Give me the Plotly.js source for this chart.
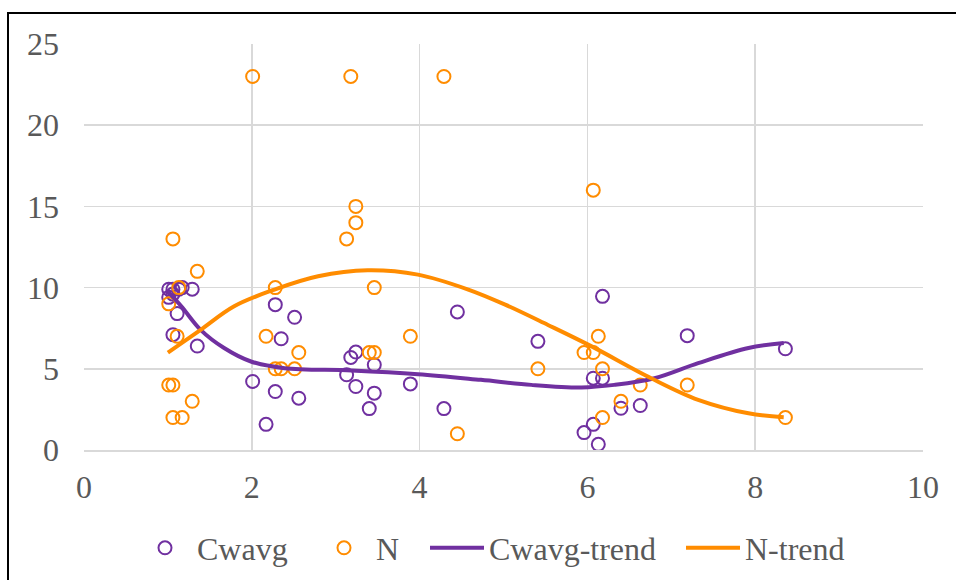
<!DOCTYPE html>
<html>
<head>
<meta charset="utf-8">
<script src="https://cdn.plot.ly/plotly-3.0.1.min.js"></script>
<style>
  html, body { margin: 0; padding: 0; background: #fff; }
  #wrap { position: relative; width: 956px; height: 580px; overflow: hidden; }
  #chart { position: absolute; left: 0; top: 0; width: 956px; height: 580px; }
  #frame { position: absolute; left: 7px; top: 12px; width: 960px; height: 580px;
           border-left: 2px solid #000; border-top: 2px solid #000; pointer-events: none; }
</style>
</head>
<body>
<div id="wrap">
  <div id="chart"></div>
  <div id="frame"></div>
</div>
<script>
// Sample x positions (shared by both series)
const sampleX = [1.01, 1.01, 1.06, 1.06, 1.06, 1.11, 1.13, 1.17, 1.29, 1.35,
                 2.01, 2.17, 2.28, 2.28, 2.35, 2.51, 2.56,
                 3.13, 3.18, 3.24, 3.24, 3.40, 3.46, 3.46, 3.89, 4.29, 4.45,
                 5.41, 5.96, 6.07, 6.07, 6.13, 6.18, 6.18, 6.40, 6.63, 7.19, 8.36];
const cwavgValues = [9.9, 9.4, 9.9, 9.6, 7.1, 8.4, 9.9, 10.0, 9.9, 6.4,
                     4.22, 1.58, 8.95, 3.6, 6.85, 8.17, 3.19,
                     4.63, 5.7, 6.03, 3.91, 2.55, 5.25, 3.5, 4.07, 2.55, 8.5,
                     6.69, 1.07, 4.42, 1.58, 0.35, 9.46, 4.42, 2.57, 2.74, 7.04, 6.23];
const nValues = [9, 4, 4, 13, 2, 7, 10, 2, 3, 11,
                 23, 7, 10, 5, 5, 5, 6,
                 13, 23, 14, 15, 6, 6, 10, 7, 23, 1,
                 5, 6, 6, 16, 7, 5, 2, 3, 4, 4, 2];

// Trend lines
const cwTrendX = [1.00, 1.16, 1.39, 1.67, 1.99, 2.39, 3.19, 3.98, 4.73, 5.33, 5.93, 6.32, 6.80, 7.32, 7.92, 8.34];
const cwTrendY = [9.75, 8.85, 7.4, 6.28, 5.45, 5.04, 4.9, 4.67, 4.32, 4.01, 3.85, 4.01, 4.42, 5.35, 6.28, 6.59];
const nTrendX = [1.00, 1.39, 1.79, 2.27, 2.79, 3.38, 3.98, 4.58, 5.02, 5.53, 6.05, 6.76, 7.32, 7.92, 8.34];
const nTrendY = [6.0, 7.4, 8.85, 9.88, 10.7, 11.07, 10.8, 9.88, 8.95, 7.7, 6.38, 4.42, 3.09, 2.26, 2.02];

const seriesNames = ['Cwavg', 'N', 'Cwavg-trend', 'N-trend'];
const xTicks = [0, 2, 4, 6, 8, 10];
const yTicks = [0, 5, 10, 15, 20, 25];

const purple = '#7030A0';
const orange = '#FF8C00';
const fontFam = '"Liberation Serif", "Times New Roman", serif';
const legFont = { family: fontFam, size: 32, color: '#595959' };

const traces = [
  { x: sampleX, y: cwavgValues, type: 'scatter', mode: 'markers', name: seriesNames[0], legend: 'legend',
    marker: { symbol: 'circle-open', size: 13, color: purple, line: { width: 2, color: purple } } },
  { x: sampleX, y: nValues, type: 'scatter', mode: 'markers', name: seriesNames[1], legend: 'legend2',
    marker: { symbol: 'circle-open', size: 13, color: orange, line: { width: 2, color: orange } } },
  { x: cwTrendX, y: cwTrendY, type: 'scatter', mode: 'lines', name: seriesNames[2], legend: 'legend3',
    line: { color: purple, width: 4, shape: 'spline', smoothing: 1 } },
  { x: nTrendX, y: nTrendY, type: 'scatter', mode: 'lines', name: seriesNames[3], legend: 'legend4',
    line: { color: orange, width: 4, shape: 'spline', smoothing: 1 } }
];

function legendAt(px) {
  return { orientation: 'h', xref: 'container', yref: 'container',
           x: px / 956, xanchor: 'left', y: (580 - 548) / 580, yanchor: 'middle',
           itemwidth: 54, font: legFont, itemclick: false, bgcolor: 'rgba(0,0,0,0)' };
}

const layout = {
  width: 956, height: 580,
  margin: { l: 84, r: 33, t: 44, b: 130 },
  paper_bgcolor: '#fff', plot_bgcolor: '#fff',
  font: { family: fontFam, size: 32, color: '#595959' },
  showlegend: true,
  legend: legendAt(133),
  legend2: legendAt(312),
  legend3: legendAt(425),
  legend4: legendAt(681),
  xaxis: { range: [0, 10], tickvals: xTicks, ticktext: xTicks.map(String), automargin: false,
           tickfont: { family: fontFam, size: 32, color: '#595959' },
           showgrid: true, gridcolor: '#D9D9D9', gridwidth: 1.5,
           zeroline: false, showline: true, linecolor: '#D9D9D9', linewidth: 1.5,
           ticks: '', ticklabelstandoff: 8, mirror: false },
  yaxis: { range: [0, 25], tickvals: yTicks, ticktext: yTicks.map(String), automargin: false,
           tickfont: { family: fontFam, size: 32, color: '#595959' },
           showgrid: true, gridcolor: '#D9D9D9', gridwidth: 1.5,
           zeroline: false, showline: false, ticks: '', ticklabelstandoff: 24 }
};

Plotly.newPlot('chart', traces, layout, { displayModeBar: false, staticPlot: true });
</script>
</body>
</html>
